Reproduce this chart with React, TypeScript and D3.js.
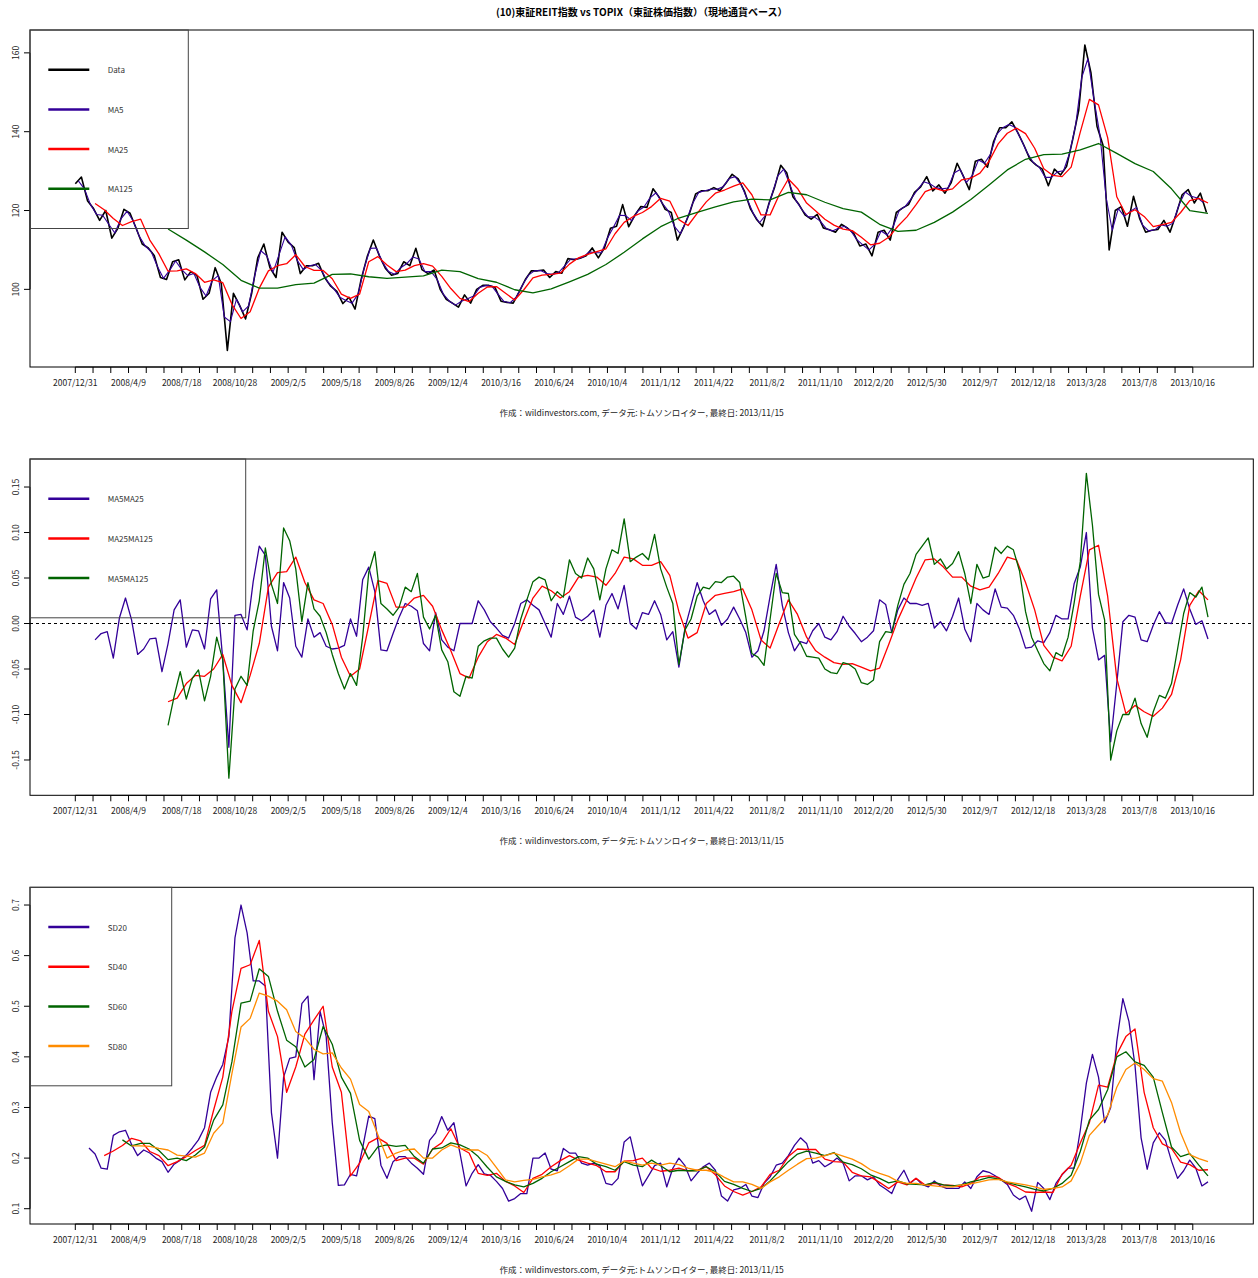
import React from "react";
import * as d3 from "d3";

const W = 1258;
const H = 1278;
const FONT = "'Noto Sans CJK JP', 'Noto Sans', sans-serif";

// trading-day index of the last observation (2013/11/15)
const LAST_IDX = 1490;
const LABEL_EVERY = 70;

const titleText = "(10)東証REIT指数 vs TOPIX（東証株価指数）（現地通貨ベース）";
const footerText = "作成：wildinvestors.com, データ元:トムソンロイター, 最終日: 2013/11/15";

const tickDates = [
  "2007/12/31", "2008/4/9", "2008/7/18", "2008/10/28", "2009/2/5", "2009/5/18",
  "2009/8/26", "2009/12/4", "2010/3/16", "2010/6/24", "2010/10/4", "2011/1/12",
  "2011/4/22", "2011/8/2", "2011/11/10", "2012/2/20", "2012/5/30", "2012/9/7",
  "2012/12/18", "2013/3/28", "2013/7/8", "2013/10/16",
];

// ---- panel 1: index level (sampled every 8 trading days from day 0)
const reitData = [
  126.8, 128.5, 122.5, 120.5, 117.5, 120, 113, 115.5, 120.3, 119.3,
  115.5, 111.5, 110.5, 108.5, 103, 102.5, 107, 107.5, 102.4, 104.5,
  103.5, 97.5, 99, 105.5, 101.5, 84.5, 99, 96, 92.5, 99,
  108, 111.5, 105.5, 103, 114.5, 112, 110.6, 104, 106, 106,
  106.6, 103, 100.8, 99.5, 96.4, 98, 95, 102.5, 108.3, 112.5,
  108.5, 105.3, 103.6, 104, 107, 106, 110.4, 105, 104, 104.9,
  100, 97.5, 96.5, 95.5, 98.6, 96.5, 100, 101, 101, 100.5,
  97, 96.7, 96.5, 99.4, 102.5, 104.7, 104.7, 104.9, 103, 104.5,
  104.1, 107.8, 107.5, 107.9, 108.5, 110.5, 108, 110.5, 115.5, 116,
  121.5, 115.9, 118.8, 121, 120.8, 125.5, 123.4, 120.3, 119.5, 112.5,
  115.7, 119.3, 124.2, 125, 125, 125.8, 125, 127, 129.2, 128,
  125, 120.5, 117.8, 116, 121.5, 126, 131.5, 129.5, 123.5, 121.5,
  118.9, 117.8, 119, 115.6, 115.1, 114.5, 116.5, 115.5, 114.2, 111,
  111.5, 108.5, 114.5, 115, 112.5, 119.5, 120.6, 121.5, 124.6, 126,
  128.6, 125, 126.5, 124.4, 127, 132, 128.8, 125.3, 132.5, 133,
  131, 137.5, 141, 141, 142.5, 139.7, 136.5, 132.9, 131.5, 130.5,
  126.3, 130.5, 129, 131.2, 138, 145.5, 162, 155, 141.4, 136.5,
  110, 120, 121, 116, 123.6, 118, 114.5, 115, 115.2, 117.5,
  114.5, 119, 124, 125.3, 121.9, 124.4, 119.5,
];

// MA5, every 8 days from day 4
const ma5 = [
  127.5, 125.5, 121.5, 119, 118.8, 116.5, 114.3, 117.9, 119.8, 117.4,
  113.5, 111, 109.5, 105.8, 102.8, 104.8, 107.2, 105, 103.5, 104,
  100.5, 98.3, 102.2, 103.5, 93, 91.8, 97.5, 94.3, 95.8, 103.5,
  109.8, 108.5, 104.3, 108.8, 113.3, 111.3, 107.3, 105, 106, 106.3,
  104.8, 101.9, 100.2, 98, 97.2, 96.5, 98.8, 105.4, 110.4, 110.5,
  106.9, 104.5, 103.8, 105.5, 106.5, 108.2, 107.7, 104.5, 104.5, 102.5,
  98.8, 97, 96, 97, 97.6, 98.3, 100.5, 101, 100.8, 98.8,
  96.9, 96.6, 98, 101, 103.6, 104.7, 104.8, 104, 103.8, 104.3,
  106, 107.7, 107.7, 108.2, 109.5, 109.3, 109.3, 113, 115.8, 118.8,
  118.7, 117.4, 119.9, 120.9, 123.2, 124.5, 121.9, 119.9, 116, 114.1,
  117.5, 121.8, 124.6, 125, 125.4, 125.4, 126, 128.1, 128.6, 126.5,
  122.8, 119.2, 116.9, 118.8, 123.8, 128.8, 130.5, 126.5, 122.5, 120.2,
  118.4, 118.4, 117.3, 115.4, 114.8, 115.5, 116, 114.9, 112.6, 111.3,
  110, 111.5, 114.8, 113.8, 116, 120.1, 121.1, 123.1, 125.3, 127.3,
  126.8, 125.8, 125.5, 125.7, 129.5, 130.4, 127.1, 128.9, 132.8, 132,
  134.3, 139.3, 141, 141.8, 141.1, 138.1, 134.7, 132.2, 131, 128.4,
  128.4, 129.8, 130.1, 134.6, 141.8, 153.8, 158.5, 148.2, 139, 123.3,
  115, 120.5, 118.5, 119.8, 120.8, 116.3, 114.8, 115.1, 116.4, 116,
  116.8, 121.5, 124.7, 123.6, 123.2, 122,
];

// MA25, every 12 days from day 26
const ma25 = [
  121.8, 120.2, 118, 116.2, 117.2, 117.8, 112.5, 109, 104.6, 104.7,
  105.2, 104, 101.8, 102.4, 101.7, 96.2, 92.6, 94.3, 100.3, 104.7,
  106, 106.5, 108.8, 105.8, 104.8, 104.8, 102.7, 98.8, 97.7, 98.8,
  107, 108.3, 106.2, 104.5, 104.9, 106, 106.5, 105.9, 103.3, 100.2,
  97.7, 96.9, 99, 100.6, 100.7, 99, 97.3, 99.9, 102.9, 103.6,
  103.8, 104.1, 106.4, 108, 108.9, 109.6, 110.3, 114.1, 117, 118.5,
  119.5, 121, 123.1, 122.4, 117.7, 116.2, 119.3, 122.2, 124.4, 125.2,
  126.2, 127, 124, 118.9, 118.9, 124, 128, 125.6, 121.9, 119.9,
  117.8, 116.3, 115.3, 114.9, 113.2, 111.3, 111.7, 113.2, 116, 118.4,
  121.5, 124.8, 125.7, 125, 125.5, 127.8, 128.2, 129.5, 132.5, 136.9,
  139.6, 140.9, 139.5, 135.8, 130.6, 128.9, 128.6, 131, 139.9, 148.2,
  146.8, 138.5, 123.5, 119, 120.2, 118.5, 115.9, 116.4, 117, 119.5,
  122.5, 123.1, 121.9,
];

// MA125, every 24 days from day 122
const ma125 = [
  115.3, 112.5, 109.5, 106.3, 102.3, 100.3, 100.3, 101.2, 101.6, 103.8,
  103.9, 103.2, 102.8, 103.1, 103.4, 104.9, 104.5, 102.7, 101.8, 99.9,
  99.1, 100.1, 101.9, 103.8, 106.3, 109.4, 112.8, 115.9, 118.1, 119.5,
  120.9, 122.2, 122.9, 122.7, 124.6, 124, 122.1, 120.5, 119.6, 116.5,
  114.7, 115, 117, 119.6, 122.8, 126.5, 130.3, 133, 134.2, 134.3,
  135.4, 137, 134.5, 131.9, 129.9, 125.5, 120, 119.3,
];

// ---- panel 2: moving-average divergences
// MA5/MA25, every 8 days from day 26
const ma5ma25 = [
  -0.018, -0.011, -0.009, -0.038, 0.006, 0.028, 0.004, -0.034, -0.028, -0.017,
  -0.016, -0.053, -0.022, 0.015, 0.026, -0.026, -0.007, -0.008, -0.028, 0.027,
  0.037, -0.04, -0.136, 0.009, 0.01, -0.007, 0.046, 0.085, 0.075, -0.003,
  -0.03, 0.045, 0.028, -0.025, -0.037, 0.005, -0.015, -0.01, -0.025, -0.028,
  -0.027, -0.024, 0.005, -0.014, 0.048, 0.062, 0.035, -0.029, -0.03, -0.011,
  0.007, 0.022, 0.019, 0.014, -0.022, -0.03, 0.012, -0.018, -0.026, -0.03,
  0, 0, 0, 0.025, 0.015, 0.002, -0.005, -0.013, -0.016, 0,
  0.022, 0.026, 0.02, 0.015, 0, -0.015, 0.022, 0.01, 0.03, 0.007,
  0.003, 0.008, 0.015, -0.015, 0.02, 0.033, 0.016, 0.042, 0, -0.006,
  0.012, 0.01, 0.025, 0.01, -0.018, -0.009, -0.048, -0.005, 0.02, 0.045,
  0.025, 0.01, 0.015, -0.002, 0.005, 0.018, 0.005, -0.01, -0.037, -0.03,
  -0.008, 0.03, 0.065, 0.02, -0.01, -0.03, -0.02, -0.022, -0.008, 0,
  -0.015, -0.018, -0.009, 0.008, -0.003, -0.011, -0.02, -0.015, -0.008, 0.026,
  0.021, -0.01, 0.015, 0.028, 0.022, 0.022, 0.02, 0.022, -0.005, 0.002,
  -0.008, 0.008, 0.028, -0.006, -0.02, 0.022, 0.015, 0.01, 0.038, 0.018,
  0.017, 0.009, -0.006, -0.027, -0.026, -0.019, -0.021, -0.01, 0.009, 0.005,
  0.005, 0.044, 0.062, 0.1, -0.005, -0.04, -0.035, -0.13, -0.066, 0.002,
  0.009, 0.007, -0.018, -0.02, -0.002, 0.013, 0.001, 0, 0.02, 0.038,
  0.016, -0.001, 0.003, -0.017,
];

// MA25/MA125, every 12 days from day 122
const ma25ma125 = [
  -0.086, -0.082, -0.066, -0.057, -0.058, -0.05, -0.034, -0.068, -0.087, -0.057,
  -0.022, 0.04, 0.056, 0.057, 0.073, 0.045, 0.026, 0.022, -0.001, -0.037,
  -0.058, -0.05, -0.002, 0.047, 0.044, 0.018, 0.018, 0.028, 0.031, 0.019,
  -0.007, -0.03, -0.055, -0.06, -0.037, -0.02, -0.012, -0.016, -0.023, 0.003,
  0.028, 0.041, 0.036, 0.028, 0.035, 0.051, 0.053, 0.051, 0.042, 0.055,
  0.073, 0.071, 0.064, 0.064, 0.068, 0.053, 0.013, -0.016, -0.01, 0.022,
  0.031, 0.033, 0.035, 0.038, 0.015, -0.018, -0.027, 0, 0.026, 0.01,
  -0.015, -0.03, -0.037, -0.043, -0.045, -0.044, -0.048, -0.052, -0.049, -0.023,
  0.004, 0.026, 0.05, 0.07, 0.071, 0.062, 0.051, 0.051, 0.041, 0.037,
  0.04, 0.055, 0.073, 0.07, 0.045, 0.015, -0.024, -0.037, -0.041, -0.025,
  0.03, 0.081, 0.086, 0.03, -0.06, -0.099, -0.09, -0.097, -0.102, -0.093,
  -0.078, -0.04, 0.02, 0.036, 0.026,
];

// MA5/MA125, every 8 days from day 122
const ma5ma125 = [
  -0.112, -0.08, -0.053, -0.083, -0.06, -0.051, -0.085, -0.058, -0.015, -0.04,
  -0.17, -0.072, -0.058, -0.068, -0.008, 0.025, 0.083, 0.043, 0.022, 0.105,
  0.091, 0.06, 0.002, 0.045, 0.016, 0.008, -0.01, -0.034, -0.055, -0.072,
  -0.055, -0.068, -0.015, 0.056, 0.079, 0.022, 0.016, 0.009, 0.018, 0.04,
  0.035, 0.055, 0.007, -0.006, 0.009, -0.029, -0.042, -0.075, -0.08, -0.058,
  -0.06, -0.025, -0.019, -0.016, -0.016, -0.028, -0.037, -0.027, 0.005, 0.026,
  0.046, 0.051, 0.048, 0.025, 0.035, 0.029, 0.07, 0.055, 0.05, 0.072,
  0.06, 0.026, 0.06, 0.081, 0.077, 0.115, 0.068, 0.073, 0.077, 0.07,
  0.098, 0.06, 0.04, 0.022, -0.045, -0.007, 0.005, 0.03, 0.04, 0.038,
  0.046, 0.045, 0.051, 0.052, 0.045, 0.007, -0.033, -0.037, -0.046, 0.005,
  0.055, 0.034, 0.033, -0.012, -0.022, -0.036, -0.037, -0.038, -0.05, -0.054,
  -0.055, -0.043, -0.045, -0.05, -0.065, -0.067, -0.062, -0.02, -0.009, -0.01,
  0.02, 0.043, 0.055, 0.076, 0.085, 0.094, 0.065, 0.071, 0.06, 0.066,
  0.079, 0.055, 0.022, 0.065, 0.05, 0.052, 0.084, 0.077, 0.085, 0.081,
  0.058, 0.013, -0.015, -0.03, -0.044, -0.052, -0.032, -0.036, -0.015, 0.023,
  0.068, 0.165, 0.108, 0.032, 0.004, -0.15, -0.118, -0.1, -0.1, -0.082,
  -0.11, -0.125, -0.097, -0.079, -0.082, -0.066, -0.028, 0.011, 0.034, 0.029,
  0.04, 0.007,
];

// ---- panel 3: rolling volatility
// SD20, every 8 days from day 18
const sd20 = [
  0.22, 0.208, 0.18, 0.178, 0.245, 0.252, 0.255, 0.227, 0.205, 0.216,
  0.21, 0.2, 0.193, 0.172, 0.188, 0.196, 0.206, 0.22, 0.236, 0.26,
  0.33, 0.36, 0.385, 0.44, 0.635, 0.7, 0.645, 0.55, 0.55, 0.54,
  0.29, 0.2, 0.36, 0.397, 0.4, 0.505, 0.52, 0.355, 0.49, 0.44,
  0.27, 0.146, 0.147, 0.168, 0.165, 0.22, 0.283, 0.278, 0.186, 0.16,
  0.193, 0.203, 0.203, 0.19, 0.18, 0.168, 0.235, 0.25, 0.282, 0.255,
  0.27, 0.21, 0.145, 0.17, 0.187, 0.169, 0.166, 0.154, 0.14, 0.115,
  0.12, 0.13, 0.13, 0.2, 0.2, 0.21, 0.178, 0.175, 0.219, 0.21,
  0.21, 0.19, 0.186, 0.19, 0.185, 0.15, 0.147, 0.16, 0.232, 0.242,
  0.19, 0.145, 0.165, 0.185, 0.19, 0.143, 0.18, 0.2, 0.185, 0.155,
  0.17, 0.183, 0.19, 0.176, 0.125, 0.115, 0.137, 0.14, 0.148, 0.125,
  0.122, 0.15, 0.163, 0.186, 0.19, 0.205, 0.225, 0.24, 0.229, 0.19,
  0.195, 0.183, 0.19, 0.2, 0.19, 0.155, 0.165, 0.165, 0.157, 0.163,
  0.147, 0.139, 0.13, 0.158, 0.176, 0.15, 0.16, 0.148, 0.143, 0.155,
  0.145, 0.14, 0.14, 0.14, 0.153, 0.14, 0.163, 0.175, 0.172, 0.165,
  0.157, 0.148, 0.127, 0.118, 0.125, 0.095, 0.152, 0.14, 0.118, 0.15,
  0.167, 0.18, 0.18, 0.255, 0.348, 0.405, 0.36, 0.27, 0.3, 0.43,
  0.515, 0.47, 0.383, 0.24, 0.178, 0.23, 0.25, 0.235, 0.194, 0.16,
  0.175, 0.196, 0.18, 0.145, 0.153,
];

// SD40, every 12 days from day 38
const sd40 = [
  0.205, 0.214, 0.225, 0.239, 0.234, 0.213, 0.205, 0.185, 0.193, 0.203,
  0.215, 0.225, 0.295, 0.36, 0.49, 0.575, 0.582, 0.63, 0.49, 0.44,
  0.33, 0.38, 0.445, 0.473, 0.5, 0.38, 0.33, 0.165, 0.19, 0.23,
  0.24, 0.229, 0.195, 0.2, 0.2, 0.188, 0.218, 0.23, 0.258, 0.22,
  0.21, 0.17, 0.166, 0.17, 0.154, 0.145, 0.132, 0.16, 0.168, 0.183,
  0.195, 0.205, 0.196, 0.19, 0.185, 0.173, 0.173, 0.194, 0.195, 0.2,
  0.18, 0.174, 0.176, 0.18, 0.175, 0.176, 0.183, 0.167, 0.145, 0.134,
  0.127, 0.134, 0.143, 0.168, 0.176, 0.203, 0.218, 0.217, 0.217, 0.198,
  0.193, 0.192, 0.172, 0.165, 0.163, 0.152, 0.14, 0.153, 0.147, 0.16,
  0.147, 0.15, 0.147, 0.146, 0.143, 0.15, 0.163, 0.165, 0.162, 0.15,
  0.143, 0.133, 0.132, 0.133, 0.132, 0.168, 0.186, 0.23, 0.27, 0.344,
  0.34, 0.405, 0.44, 0.455, 0.33, 0.26, 0.228, 0.219, 0.192, 0.187,
  0.176, 0.177,
];

// SD60, every 12 days from day 62
const sd60 = [
  0.236, 0.224, 0.229, 0.229, 0.215, 0.197, 0.2, 0.195, 0.206, 0.222,
  0.275, 0.305, 0.39, 0.506, 0.51, 0.574, 0.559, 0.49, 0.433, 0.42,
  0.38, 0.395, 0.46, 0.425, 0.36, 0.328, 0.235, 0.198, 0.222, 0.226,
  0.223, 0.225, 0.203, 0.19, 0.218, 0.22, 0.23, 0.226, 0.218, 0.203,
  0.182, 0.163, 0.154, 0.147, 0.143, 0.15, 0.16, 0.173, 0.183, 0.193,
  0.203, 0.2, 0.188, 0.183, 0.176, 0.193, 0.186, 0.183, 0.196, 0.185,
  0.173, 0.176, 0.175, 0.175, 0.183, 0.173, 0.154, 0.148, 0.14, 0.134,
  0.14, 0.155, 0.174, 0.193, 0.208, 0.214, 0.21, 0.205, 0.211, 0.192,
  0.187, 0.179, 0.167, 0.16, 0.151, 0.155, 0.149, 0.148, 0.147, 0.152,
  0.147, 0.145, 0.147, 0.153, 0.157, 0.162, 0.159, 0.152, 0.147, 0.143,
  0.138, 0.135, 0.14, 0.15, 0.166, 0.213, 0.275, 0.296, 0.335, 0.4,
  0.41, 0.39, 0.383, 0.36, 0.29, 0.222, 0.203, 0.209, 0.186, 0.165,
];

// SD80, every 12 days from day 74
const sd80 = [
  0.224, 0.224, 0.223, 0.219, 0.216, 0.206, 0.204, 0.202, 0.21, 0.249,
  0.269, 0.367, 0.459, 0.476, 0.526, 0.52, 0.51, 0.493, 0.45, 0.437,
  0.415, 0.406, 0.408, 0.378, 0.356, 0.306, 0.292, 0.246, 0.2, 0.21,
  0.216, 0.218, 0.2, 0.2, 0.216, 0.226, 0.219, 0.216, 0.216, 0.205,
  0.181, 0.157, 0.153, 0.156, 0.158, 0.163, 0.167, 0.173, 0.185, 0.198,
  0.198, 0.193, 0.188, 0.183, 0.194, 0.19, 0.186, 0.19, 0.186, 0.19,
  0.187, 0.18, 0.176, 0.176, 0.172, 0.162, 0.153, 0.153, 0.148, 0.14,
  0.153, 0.163, 0.176, 0.188, 0.199, 0.2, 0.205, 0.21, 0.204, 0.198,
  0.189, 0.177, 0.17, 0.164, 0.154, 0.15, 0.15, 0.147, 0.145, 0.143,
  0.143, 0.147, 0.149, 0.153, 0.157, 0.158, 0.153, 0.15, 0.147, 0.143,
  0.138, 0.14, 0.143, 0.155, 0.19, 0.245, 0.265, 0.285, 0.34, 0.375,
  0.388, 0.375, 0.357, 0.352, 0.31, 0.25, 0.207, 0.199, 0.193,
];

const BLUE = "#330099";
const RED = "#ff0000";
const GREEN = "#006400";
const ORANGE = "#ff8c00";

interface Series {
  label: string;
  values: number[];
  start: number;
  step: number;
  color: string;
  width: number;
}

interface PanelProps {
  top: number;
  bottom: number;
  yDomain: [number, number];
  yTicks: number[];
  yFormat: (v: number) => string;
  series: Series[];
  legendWidth: number;
  zeroLine?: boolean;
}

const LEFT = 30;
const RIGHT = 1253.3;

const x = d3
  .scaleLinear()
  .domain([-0.04 * LAST_IDX, 1.04 * LAST_IDX])
  .range([LEFT, RIGHT]);

const Panel: React.FC<PanelProps> = ({ top, bottom, yDomain, yTicks, yFormat, series, legendWidth, zeroLine }) => {
  const y = d3.scaleLinear().domain(yDomain).range([bottom, top]);
  // a minor tick every third of a label interval
  const minorTicks = d3.range(0, (tickDates.length - 1) * 3 + 1).map((i) => (i * LABEL_EVERY) / 3);
  const rowGap = 39.7;

  return (
    <g>
      {zeroLine && (
        <line x1={LEFT} x2={RIGHT} y1={y(0)} y2={y(0)} stroke="#000" strokeWidth={1} strokeDasharray="3,3" />
      )}
      {series.map((s) => {
        const line = d3
          .line<number>()
          .x((_, i) => x(s.start + i * s.step))
          .y((d) => y(d));
        return (
          <path key={s.label} d={line(s.values) ?? ""} fill="none" stroke={s.color} strokeWidth={s.width} strokeLinejoin="round" />
        );
      })}
      <rect x={LEFT} y={top} width={RIGHT - LEFT} height={bottom - top} fill="none" stroke="#000" strokeWidth={1} />

      {/* x axis */}
      <line x1={x(0)} x2={x(minorTicks[minorTicks.length - 1])} y1={bottom} y2={bottom} stroke="#000" />
      {minorTicks.map((t, i) => (
        <line key={i} x1={x(t)} x2={x(t)} y1={bottom} y2={bottom + 6} stroke="#000" />
      ))}
      {tickDates.map((d, i) => (
        <text key={d} x={x(i * LABEL_EVERY)} y={bottom + 14.5} textAnchor="middle" dominantBaseline="central" fontSize={8.5} fill="#222">
          {d}
        </text>
      ))}

      {/* y axis */}
      <line x1={LEFT} x2={LEFT} y1={y(yTicks[0])} y2={y(yTicks[yTicks.length - 1])} stroke="#000" />
      {yTicks.map((t) => (
        <g key={t}>
          <line x1={LEFT - 6} x2={LEFT} y1={y(t)} y2={y(t)} stroke="#000" />
          <text
            transform={`translate(15,${y(t)}) rotate(-90)`}
            textAnchor="middle"
            dominantBaseline="central"
            fontSize={8.5}
            fill="#222"
          >
            {yFormat(t)}
          </text>
        </g>
      ))}

      {/* legend */}
      <rect x={LEFT} y={top} width={legendWidth} height={rowGap * (series.length + 1)} fill="none" stroke="#444" strokeWidth={1} />
      {series.map((s, i) => (
        <g key={s.label}>
          <line x1={48.3} x2={89.3} y1={top + rowGap * (i + 1)} y2={top + rowGap * (i + 1)} stroke={s.color} strokeWidth={2.5} />
          <text x={107.7} y={top + rowGap * (i + 1)} dominantBaseline="central" fontSize={8} fill="#333">
            {s.label}
          </text>
        </g>
      ))}

      <text x={(LEFT + RIGHT) / 2} y={bottom + 44.5} textAnchor="middle" dominantBaseline="central" fontSize={8.5} fill="#222">
        {footerText}
      </text>
    </g>
  );
};

const App: React.FC = () => {
  return (
    <svg
      width={W}
      height={H}
      style={{ position: "absolute", left: 0, top: 0, background: "#fff", fontFamily: FONT }}
    >
      <rect width={W} height={H} fill="#fff" />
      <text x={(LEFT + RIGHT) / 2} y={11} textAnchor="middle" dominantBaseline="central" fontSize={10} fontWeight="bold">
        {titleText}
      </text>

      <Panel
        top={30}
        bottom={367}
        yDomain={[80.3, 165.8]}
        yTicks={[100, 120, 140, 160]}
        yFormat={(v) => String(v)}
        legendWidth={158.3}
        series={[
          { label: "Data", values: reitData, start: 0, step: 8, color: "#000", width: 1.6 },
          { label: "MA5", values: ma5, start: 4, step: 8, color: BLUE, width: 1.1 },
          { label: "MA25", values: ma25, start: 26, step: 12, color: RED, width: 1.3 },
          { label: "MA125", values: ma125, start: 122, step: 24, color: GREEN, width: 1.3 },
        ]}
      />

      <Panel
        top={459}
        bottom={795.3}
        yDomain={[-0.1888, 0.1808]}
        yTicks={[-0.15, -0.1, -0.05, 0, 0.05, 0.1, 0.15]}
        yFormat={(v) => d3.format(".2f")(v).replace("−", "-")}
        legendWidth={215.7}
        zeroLine
        series={[
          { label: "MA5MA25", values: ma5ma25, start: 26, step: 8, color: BLUE, width: 1.3 },
          { label: "MA25MA125", values: ma25ma125, start: 122, step: 12, color: RED, width: 1.3 },
          { label: "MA5MA125", values: ma5ma125, start: 122, step: 8, color: GREEN, width: 1.3 },
        ]}
      />

      <Panel
        top={887.3}
        bottom={1224}
        yDomain={[0.0698, 0.735]}
        yTicks={[0.1, 0.2, 0.3, 0.4, 0.5, 0.6, 0.7]}
        yFormat={(v) => d3.format(".1f")(v)}
        legendWidth={141.7}
        series={[
          { label: "SD20", values: sd20, start: 18, step: 8, color: BLUE, width: 1.3 },
          { label: "SD40", values: sd40, start: 38, step: 12, color: RED, width: 1.3 },
          { label: "SD60", values: sd60, start: 62, step: 12, color: GREEN, width: 1.3 },
          { label: "SD80", values: sd80, start: 74, step: 12, color: ORANGE, width: 1.3 },
        ]}
      />
    </svg>
  );
};

export default App;
